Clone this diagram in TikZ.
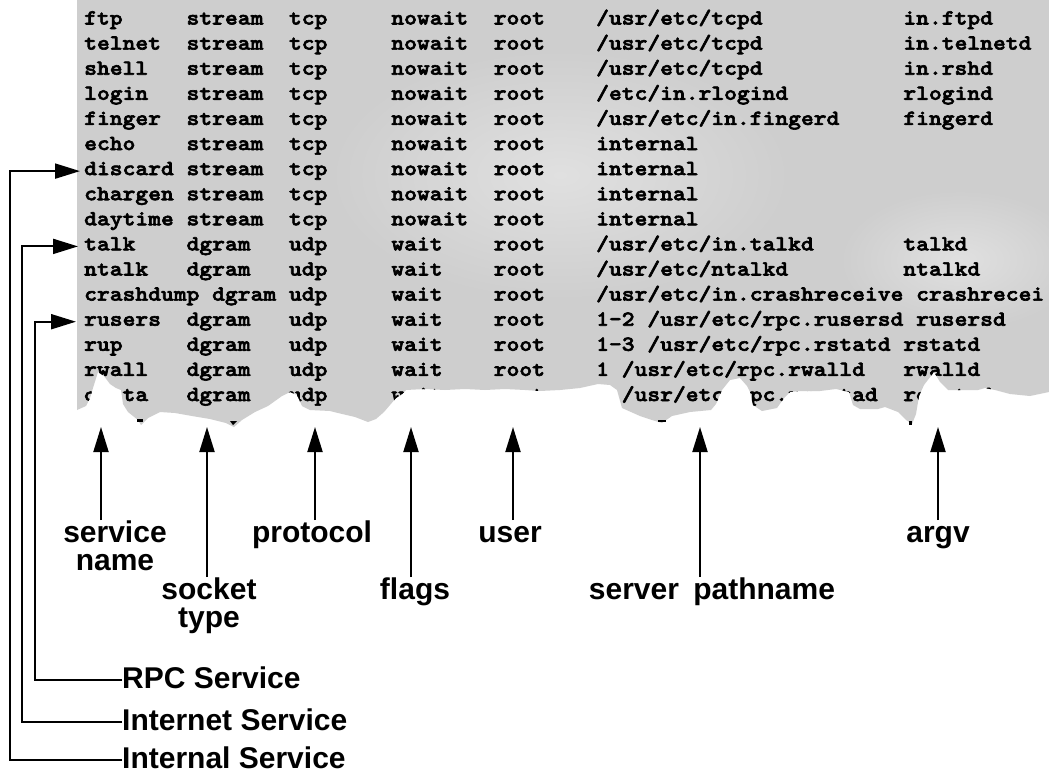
\documentclass[tikz,border=0pt]{standalone}
\usepackage{fontspec}
\usetikzlibrary{arrows.meta}
\newfontfamily\tabfont{lmmonolt10-bold.otf}[FakeStretch=1.134, FakeBold=2.8]
\newfontfamily\lblfont{Liberation Sans}
% one character cell of the monospaced table
\newlength\colw \setlength\colw{12.8pt}
\newcommand\fld[2]{\makebox[#1\colw][l]{#2}}
\definecolor{papergray}{RGB}{206,206,206}
\definecolor{paperlight}{RGB}{224,224,224}
\tikzset{
  torn/.style={insert path={(77,0) -- (1049,0) -- (1049,392) -- (1030,396) -- (1010,394)
    -- (995,390) -- (985,388) -- (978,390) -- (965,390) -- (948,390) -- (940,382)
    -- (934,372) -- (924,385) -- (919,396) -- (916,414) -- (912,424) -- (906,420)
    -- (898,412) -- (885,407) -- (878,409) -- (860,409) -- (853,405) -- (849,392)
    -- (836,389) -- (820,391) -- (800,391) -- (790,392) -- (784,398) -- (777,408)
    -- (762,411) -- (753,405) -- (750,392) -- (747,386) -- (740,378) -- (730,380)
    -- (722,390) -- (716,404) -- (711,410) -- (690,412) -- (672,416) -- (662,423)
    -- (652,420) -- (640,416) -- (622,408) -- (617,390) -- (610,385) -- (598,384)
    -- (580,388) -- (560,390) -- (540,391) -- (525,390) -- (505,389) -- (485,390)
    -- (465,389) -- (445,390) -- (425,389) -- (406,390) -- (402,394) -- (396,398)
    -- (390,405) -- (384,412) -- (376,419) -- (368,422) -- (355,417) -- (338,413)
    -- (330,411) -- (310,410) -- (302,406) -- (297,395) -- (290,392) -- (282,396)
    -- (268,406) -- (255,412) -- (242,420) -- (234,427) -- (226,423) -- (210,419)
    -- (192,416) -- (175,413) -- (160,412) -- (148,418) -- (141,425) -- (138,420)
    -- (128,412) -- (123,404) -- (121,390) -- (116,388) -- (110,384) -- (104,376)
    -- (98,372) -- (93,388) -- (90,398) -- (86,406) -- (77,410) -- cycle}},
  tabrow/.style={anchor=base west, inner sep=0pt, text height=12pt, text depth=4pt,
    font=\tabfont\fontsize{21.5pt}{25pt}\selectfont},
  lbl/.style={anchor=north, inner sep=0pt, align=center,
    font=\lblfont\bfseries\fontsize{30pt}{28pt}\selectfont},
  kind/.style={anchor=west, inner sep=0pt, text height=16pt, text depth=0pt,
    font=\lblfont\bfseries\fontsize{30pt}{28pt}\selectfont},
  arr/.style={line width=2pt, -{Triangle[length=25pt,width=15pt]}},
}
\begin{document}
\begin{tikzpicture}[x=1pt,y=-1pt]
\useasboundingbox (0,0) rectangle (1049,774);
\fill[white] (0,0) rectangle (1049,774);

% torn sheet of the configuration file
\path[fill=papergray, torn];
\begin{scope}
  \path[clip, torn];
  \shade[inner color=paperlight, outer color=papergray] (560,175) ellipse (230 and 125);
  \shade[inner color=paperlight, outer color=papergray] (960,260) ellipse (120 and 70);
  \node[tabrow] (r0)  at (84,24.5)  {\fld8{ftp}\fld8{stream}\fld8{tcp}\fld8{nowait}\fld8{root}\fld{24}{/usr/etc/tcpd}in.ftpd};
  \node[tabrow] (r1)  at (84,49.6)  {\fld8{telnet}\fld8{stream}\fld8{tcp}\fld8{nowait}\fld8{root}\fld{24}{/usr/etc/tcpd}in.telnetd};
  \node[tabrow] (r2)  at (84,74.7)  {\fld8{shell}\fld8{stream}\fld8{tcp}\fld8{nowait}\fld8{root}\fld{24}{/usr/etc/tcpd}in.rshd};
  \node[tabrow] (r3)  at (84,99.8)  {\fld8{login}\fld8{stream}\fld8{tcp}\fld8{nowait}\fld8{root}\fld{24}{/etc/in.rlogind}rlogind};
  \node[tabrow] (r4)  at (84,124.9) {\fld8{finger}\fld8{stream}\fld8{tcp}\fld8{nowait}\fld8{root}\fld{24}{/usr/etc/in.fingerd}fingerd};
  \node[tabrow] (r5)  at (84,150.0) {\fld8{echo}\fld8{stream}\fld8{tcp}\fld8{nowait}\fld8{root}internal};
  \node[tabrow] (r6)  at (84,175.1) {\fld8{discard}\fld8{stream}\fld8{tcp}\fld8{nowait}\fld8{root}internal};
  \node[tabrow] (r7)  at (84,200.2) {\fld8{chargen}\fld8{stream}\fld8{tcp}\fld8{nowait}\fld8{root}internal};
  \node[tabrow] (r8)  at (84,225.3) {\fld8{daytime}\fld8{stream}\fld8{tcp}\fld8{nowait}\fld8{root}internal};
  \node[tabrow] (r9)  at (84,250.4) {\fld8{talk}\fld8{dgram}\fld8{udp}\fld8{wait}\fld8{root}\fld{24}{/usr/etc/in.talkd}talkd};
  \node[tabrow] (r10) at (84,275.5) {\fld8{ntalk}\fld8{dgram}\fld8{udp}\fld8{wait}\fld8{root}\fld{24}{/usr/etc/ntalkd}ntalkd};
  \node[tabrow] (r11) at (84,300.6) {\fld{10}{crashdump}\fld6{dgram}\fld8{udp}\fld8{wait}\fld8{root}\fld{25}{/usr/etc/in.crashreceive}crashrecei};
  \node[tabrow] (r12) at (84,325.7) {\fld8{rusers}\fld8{dgram}\fld8{udp}\fld8{wait}\fld8{root}\fld{25}{1-2 /usr/etc/rpc.rusersd}rusersd};
  \node[tabrow] (r13) at (84,350.8) {\fld8{rup}\fld8{dgram}\fld8{udp}\fld8{wait}\fld8{root}\fld{24}{1-3 /usr/etc/rpc.rstatd}rstatd};
  \node[tabrow] (r14) at (84,375.9) {\fld8{rwall}\fld8{dgram}\fld8{udp}\fld8{wait}\fld8{root}\fld{24}{1 /usr/etc/rpc.rwalld}rwalld};
  \node[tabrow] (r15) at (84,401.0) {\fld8{quota}\fld8{dgram}\fld8{udp}\fld8{wait}\fld8{root}\fld{24}{1 /usr/etc/rpc.rquotad}rquotad};
\end{scope}

% scraps of the next, torn-off line
\fill (137,419) rectangle (143,422);
\fill (230,421) -- (237,421) -- (233,425) -- cycle;
\fill (658,420) rectangle (666,422);
\fill (909,421) rectangle (912,425);

% field labels with their arrows
\coordinate (tSvc)  at (101,427);
\coordinate (tSock) at (207,427);
\coordinate (tProt) at (315,427);
\coordinate (tFlag) at (411,427);
\coordinate (tUser) at (513,427);
\coordinate (tPath) at (700,427);
\coordinate (tArgv) at (938,427);

\node[lbl] (lsvc)  at (115,520) {\rule{0pt}{22pt}service\\name};
\node[lbl] (lsock) at (209,577) {\rule{0pt}{22pt}socket\\type};
\node[lbl] (lprot) at (312,520) {\rule{0pt}{22pt}protocol};
\node[lbl] (lflag) at (415,577) {\rule{0pt}{22pt}flags};
\node[lbl] (luser) at (510,520) {\rule{0pt}{22pt}user};
\node[lbl] (lpath) at (712,577) {\rule{0pt}{22pt}server\hspace{0.2em} pathname};
\node[lbl] (largv) at (938,520) {\rule{0pt}{22pt}argv};

\draw[arr] (lsvc.north -| tSvc) -- (tSvc);
\draw[arr] (lsock.north -| tSock) -- (tSock);
\draw[arr] (lprot.north -| tProt) -- (tProt);
\draw[arr] (lflag.north -| tFlag) -- (tFlag);
\draw[arr] (luser.north -| tUser) -- (tUser);
\draw[arr] (lpath.north -| tPath) -- (tPath);
\draw[arr] (largv.north -| tArgv) -- (tArgv);

% service kinds and their brackets
\node[kind] (lrpc) at (122,680) {RPC Service};
\node[kind] (lnet) at (122,722) {Internet Service};
\node[kind] (lint) at (122,760) {Internal Service};

\coordinate (kRpc) at (35,0);
\coordinate (kNet) at (22,0);
\coordinate (kInt) at (10,0);

\draw[arr] (lrpc.west) -- (lrpc.west -| kRpc) |- ([xshift=-8pt]r12.west);
\draw[arr] (lnet.west) -- (lnet.west -| kNet) |- ([xshift=-6pt]r9.west);
\draw[arr] (lint.west) -- (lint.west -| kInt) |- ([xshift=-4pt]r6.west);
\end{tikzpicture}
\end{document}
